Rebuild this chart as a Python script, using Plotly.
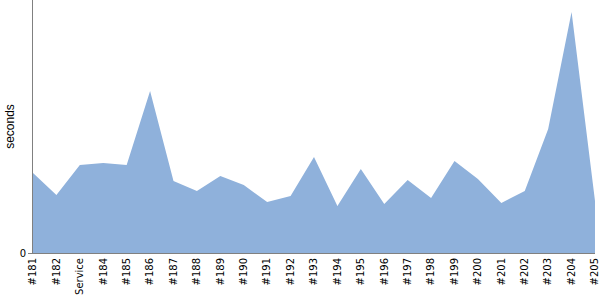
import plotly.graph_objects as go

categories = ["#181", "#182", "Service", "#184", "#185", "#186", "#187", "#188", "#189", "#190",
              "#191", "#192", "#193", "#194", "#195", "#196", "#197", "#198", "#199", "#200",
              "#201", "#202", "#203", "#204", "#205"]
seconds = [80, 58, 88, 90, 88, 162, 72, 62, 77, 68,
           51, 57, 96, 47, 84, 49, 73, 55, 92, 74,
           50, 62, 124, 241, 52]

fig = go.Figure()
fig.add_trace(go.Scatter(
    x=categories, y=seconds, mode="lines", fill="tozeroy",
    line=dict(width=0, color="#8FB1DB"), fillcolor="#8FB1DB",
    hoverinfo="x+y",
))

fig.update_layout(
    width=600, height=300,
    margin=dict(l=33, r=5, t=0, b=47),
    plot_bgcolor="white", paper_bgcolor="white",
    showlegend=False,
    font=dict(family="DejaVu Sans", color="black"),
    xaxis=dict(
        type="category", range=[0, len(categories) - 1],
        showgrid=False, zeroline=False,
        showline=True, linecolor="#808080", linewidth=1,
        tickangle=-90, tickfont=dict(size=10), ticks="",
    ),
    yaxis=dict(
        range=[0, 253], showgrid=False, zeroline=False,
        showline=True, linecolor="#808080", linewidth=1,
        tickvals=[0], ticktext=["0"], ticks="outside", ticklen=4, tickcolor="#808080",
        tickfont=dict(size=10),
        title=dict(text="seconds", font=dict(size=12, family="Liberation Sans"), standoff=2),
    ),
)

fig.write_html("out.html")
